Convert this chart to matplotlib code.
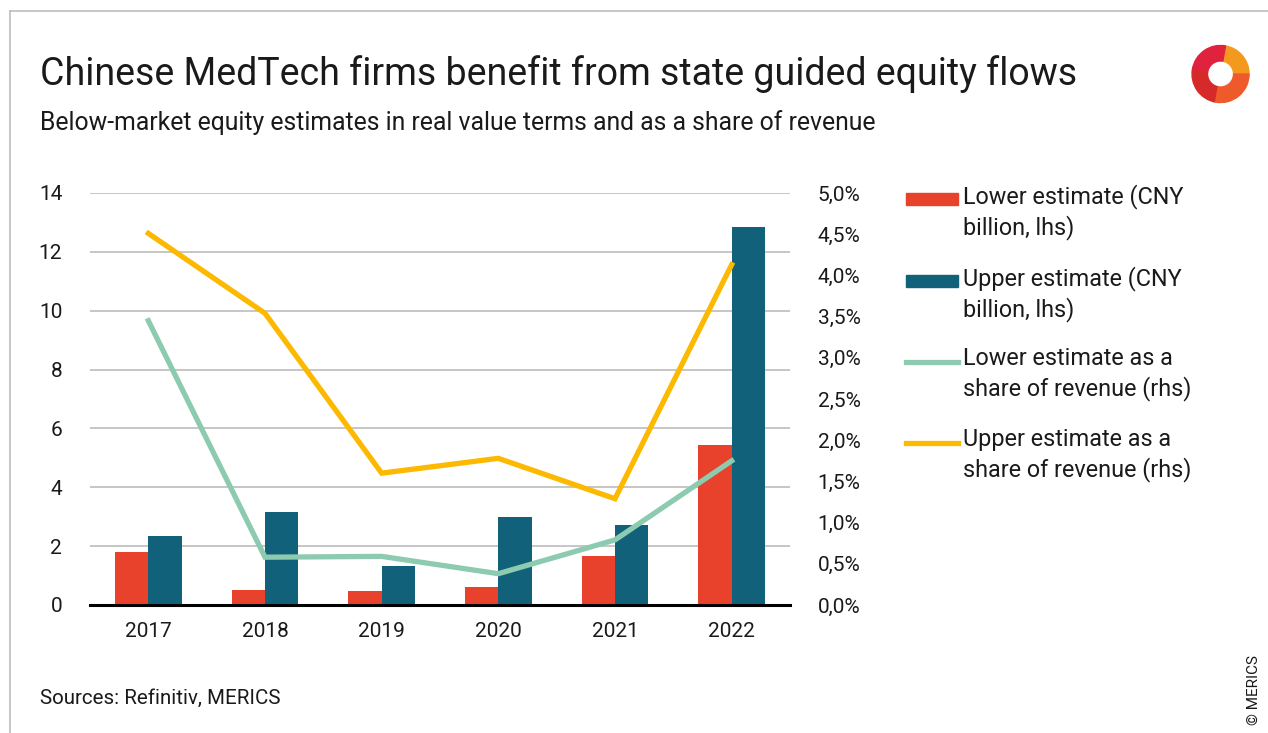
import matplotlib
matplotlib.use("Agg")
import matplotlib.pyplot as plt
from matplotlib.patches import Rectangle, Wedge
from matplotlib.lines import Line2D
from matplotlib.ticker import FuncFormatter
import numpy as np

plt.rcParams['font.family'] = ['Roboto', 'DejaVu Sans']

years = ["2017", "2018", "2019", "2020", "2021", "2022"]
lower_est = [1.80, 0.51, 0.48, 0.61, 1.66, 5.44]
upper_est = [2.34, 3.16, 1.33, 2.99, 2.72, 12.84]
lower_share = [3.45, 0.58, 0.59, 0.38, 0.79, 1.75]
upper_share = [4.51, 3.54, 1.60, 1.78, 1.29, 4.13]

legend_labels = ["Lower estimate (CNY\nbillion, lhs)",
                 "Upper estimate (CNY\nbillion, lhs)",
                 "Lower estimate as a\nshare of revenue (rhs)",
                 "Upper estimate as a\nshare of revenue (rhs)"]

RED = "#E8412C"
TEAL = "#12617A"
MINT = "#8DCBB0"
YELLOW = "#FCB900"
TXT = "#1a1a1a"

W, H = 1268, 733
fig = plt.figure(figsize=(W/100, H/100), dpi=100)

def fx(px):
    return px / W

def fy(py):
    return 1 - py / H

# Border
fig.add_artist(Line2D([fx(10), fx(10)], [fy(11), 0], color="#bdbdbd", lw=1.2))
fig.add_artist(Line2D([fx(10), 1], [fy(11), fy(11)], color="#bdbdbd", lw=1.2))

ax = fig.add_axes([fx(90), fy(605), fx(790) - fx(90), fy(193) - fy(605)])
ax2 = ax.twinx()

x = np.arange(len(years))
bw = 0.285
ax.bar(x - bw/2, lower_est, bw, color=RED, zorder=3)
ax.bar(x + bw/2, upper_est, bw, color=TEAL, zorder=3)
ax.set_ylim(0, 14)
ax.set_yticks(range(0, 15, 2))
ax.set_xlim(-0.5, 5.5)
ax.set_xticks(x)
ax.set_xticklabels(years)
ax.grid(axis='y', color="#bcbcbc", lw=1.2, zorder=0)
ax.set_axisbelow(True)
for s in ["top", "right", "left"]:
    ax.spines[s].set_visible(False)
ax.spines["bottom"].set_color("black")
ax.spines["bottom"].set_linewidth(2.2)
ax.spines["bottom"].set_zorder(5)
ax.tick_params(axis='both', length=0, labelsize=15, colors=TXT)
ax.tick_params(axis='y', pad=20)
ax.tick_params(axis='x', pad=12)

ax2.plot(x, lower_share, color=MINT, lw=3.8, zorder=4, solid_joinstyle='miter')
ax2.plot(x, upper_share, color=YELLOW, lw=3.8, zorder=4, solid_joinstyle='miter')
ax2.set_ylim(0, 5)
ax2.set_yticks(np.arange(0, 5.01, 0.5))
ax2.yaxis.set_major_formatter(FuncFormatter(lambda v, p: f"{v:.1f}%".replace(".", ",")))
for s in ["top", "right", "left", "bottom"]:
    ax2.spines[s].set_visible(False)
ax2.tick_params(axis='y', length=0, labelsize=15, colors=TXT, pad=20)

# Titles
fig.text(fx(40), fy(74), "Chinese MedTech firms benefit from state guided equity flows",
         fontsize=27, color=TXT, va='center', ha='left')
fig.text(fx(40), fy(123), "Below-market equity estimates in real value terms and as a share of revenue",
         fontsize=17.8, color=TXT, va='center', ha='left')
fig.text(fx(40), fy(698), "Sources: Refinitiv, MERICS", fontsize=14.8, color=TXT, va='center', ha='left')
fig.text(fx(1254), fy(690), "© MERICS", fontsize=11, color=TXT, rotation=90, va='center', ha='center')

# Legend (manual)
leg_y = [199, 281, 362, 443]
kinds = ["bar", "bar", "line", "line"]
cols = [RED, TEAL, MINT, YELLOW]
for yy, k, c, lab in zip(leg_y, kinds, cols, legend_labels):
    if k == "bar":
        fig.add_artist(Rectangle((fx(906), fy(yy + 6)), fx(958) - fx(906), fy(yy - 6) - fy(yy + 6),
                                 color=c, transform=fig.transFigure))
    else:
        fig.add_artist(Line2D([fx(906), fx(958)], [fy(yy), fy(yy)], color=c, lw=3.8))
    fig.text(fx(963), fy(yy - 15), lab, fontsize=16.8, color=TXT, va='top', ha='left',
             linespacing=1.32)

# Logo
lax = fig.add_axes([fx(1188), fy(106), fx(62), fy(42) - fy(106)])
lax.set_xlim(-1, 1)
lax.set_ylim(-1, 1)
lax.set_aspect('equal')
lax.axis('off')
lax.add_patch(Wedge((0.05, 0.0), 0.92, 0, 80, width=0.5, color="#F39A1E"))
lax.add_patch(Wedge((0.05, 0.0), 0.92, 80, 170, width=0.5, color="#E0223F"))
lax.add_patch(Wedge((0.05, 0.0), 0.92, 170, 260, width=0.5, color="#D62A2A"))
lax.add_patch(Wedge((0.05, 0.0), 0.92, 260, 360, width=0.5, color="#EE5A2A"))

fig.savefig("out.png", dpi=100)
